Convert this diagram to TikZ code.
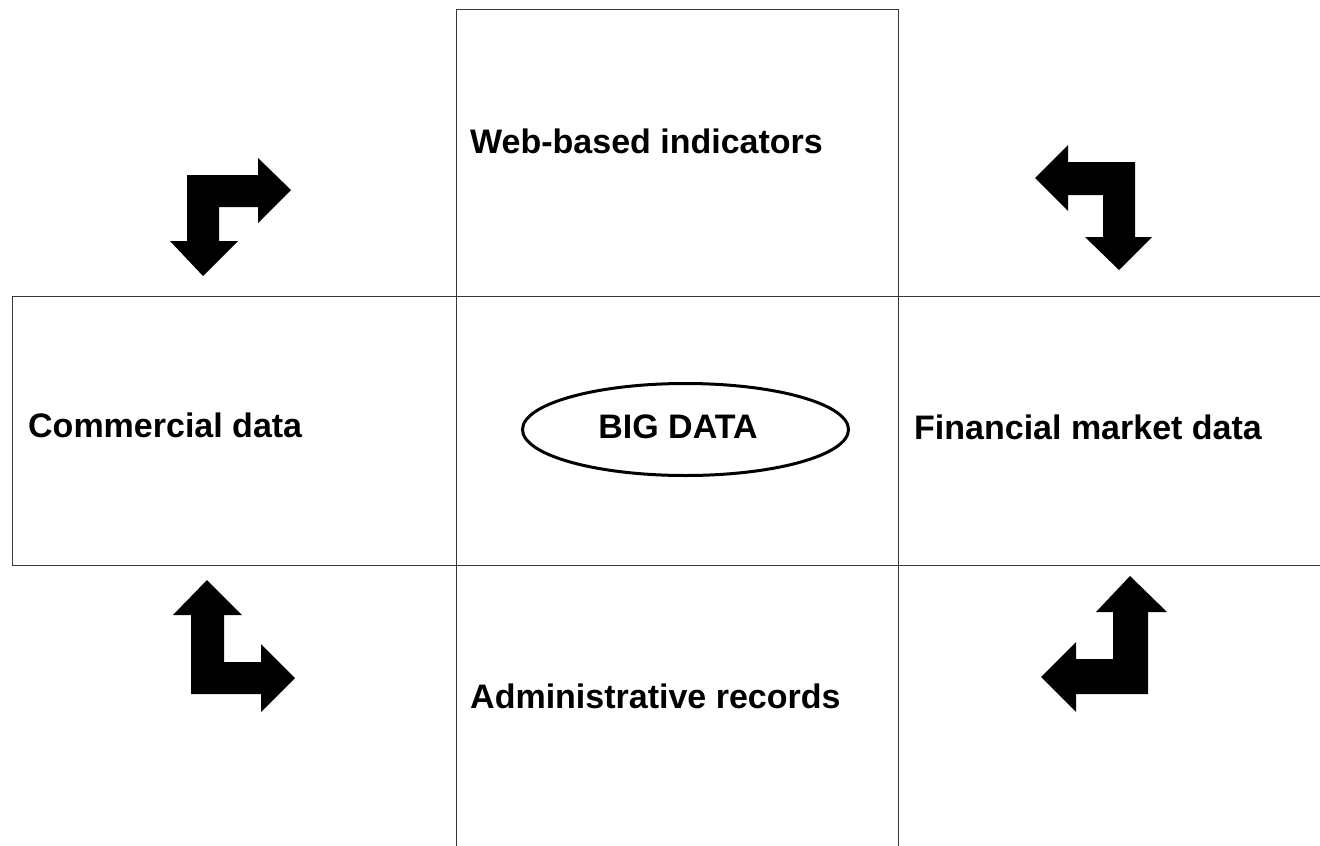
\documentclass[tikz,border=0pt]{standalone}
\usepackage{fontspec}
\setmainfont{Liberation Sans}
\usetikzlibrary{shapes.geometric}
\begin{document}
\begin{tikzpicture}[x=1pt,y=-1pt,
  cell/.style={draw=black!78,line width=1pt,inner sep=0pt,anchor=north west},
  captiontxt/.style={inner sep=0pt,anchor=base west,font=\fontsize{34}{40}\selectfont\bfseries},
  bendarrow/.style={fill=black,draw=none}]
\useasboundingbox (0,0) rectangle (1320,846);

% grid of cells around the centre
\node[cell,minimum width=442pt,minimum height=287pt] (web) at (456,9) {};
\node[cell,minimum width=444pt,minimum height=269pt] (comm) at (12,296) {};
\node[cell,minimum width=442pt,minimum height=269pt] (core) at (456,296) {};
\node[cell,minimum width=430pt,minimum height=269pt] (fin) at (898,296) {};
\node[cell,minimum width=442pt,minimum height=290pt] (adm) at (456,565) {};

% cell captions
\node[captiontxt] (webtxt) at (470,153) {Web-based indicators};
\node[captiontxt] (commtxt) at (28,437) {Commercial data};
\node[captiontxt] (fintxt) at (914,439) {Financial market data};
\node[captiontxt] (admtxt) at (470,708) {Administrative records};

% central ellipse
\node[ellipse,draw=black,line width=3pt,minimum width=326pt,minimum height=92pt,inner sep=0pt] (big) at (685.5,429.5) {};
\node[inner sep=0pt,anchor=base,font=\fontsize{34}{40}\selectfont\bfseries] (bigtxt) at (678,438) {BIG DATA};

% bent double arrows in the corners
\fill[bendarrow] (187,175) -- (258,175) -- (258,158) -- (291,190) -- (258,223) -- (258,207)
  -- (219,207) -- (219,241) -- (238,241) -- (203,276) -- (170,241) -- (187,241) -- cycle;
\fill[bendarrow] (1135,162) -- (1068,162) -- (1068,145) -- (1035,178) -- (1068,211) -- (1068,195)
  -- (1103,195) -- (1103,237) -- (1085,237) -- (1119,270) -- (1152,237) -- (1135,237) -- cycle;
\fill[bendarrow] (191,694) -- (191,615) -- (173,615) -- (207,580) -- (242,615) -- (224,615)
  -- (224,662) -- (261,662) -- (261,644) -- (295,678) -- (261,712) -- (261,694) -- cycle;
\fill[bendarrow] (1148,694) -- (1148,612) -- (1167,612) -- (1130,576) -- (1096,612) -- (1113,612)
  -- (1113,659) -- (1076,659) -- (1076,642) -- (1041,677) -- (1076,712) -- (1076,694) -- cycle;
\end{tikzpicture}
\end{document}
